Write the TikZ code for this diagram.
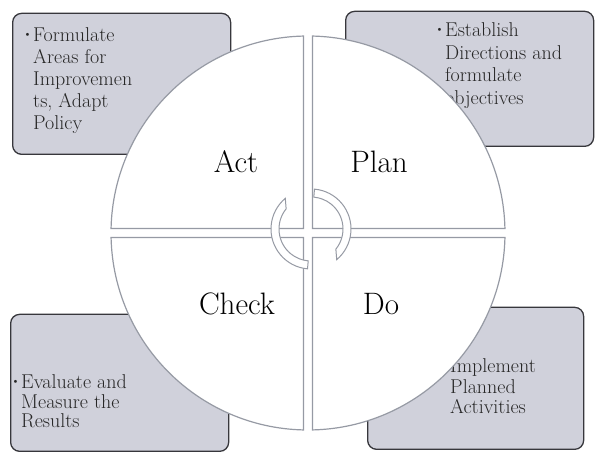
\documentclass[tikz,border=0pt]{standalone}
\usepackage{tikz}
\definecolor{boxfill}{RGB}{208,209,219}
\definecolor{boxline}{RGB}{55,55,60}
\definecolor{ringline}{RGB}{150,154,164}
\tikzset{
	box/.style={draw=boxline, fill=boxfill, line width=1.3pt, rounded corners=9pt},
	quarterpiece/.style={draw=ringline, fill=white, line width=1.2pt},
	turn/.style={draw=ringline, fill=white, line width=1pt},
	note/.style={anchor=base west, align=left, inner sep=0pt, text=black!85, font=\fontsize{20}{22}\selectfont},
	phase/.style={anchor=base, inner sep=0pt, font=\fontsize{31}{31}\selectfont}
}
\newcommand{\panel}[6][]{
	\path (#2,#3) node[box, anchor=south west, minimum width=#4, minimum height=#5, #1](#6){};
}
\newcommand{\quarterdisk}[1]{
	\draw[quarterpiece, rotate around={#1:(mid)}] (312.5,225.5) -- (312.5,417.95)
		arc[start angle=88.69, end angle=1.31, radius=197] -- cycle;
}
\newcommand{\turnarrow}[1]{
	\draw[turn, rotate around={#1:(hub)}] ([shift={(hub)}]265:40)
		arc[start angle=265, end angle=130, radius=40]
		-- ([shift={(hub)}]141:32) arc[start angle=141, end angle=265, radius=32] -- cycle;
}
\newcommand{\dotitem}{\llap{\raisebox{.2em}{\fontsize{11}{11}\selectfont\textbullet}\hspace{1.5pt}}}

\begin{document}
\begin{tikzpicture}[x=1pt, y=1pt]
	\useasboundingbox (0,0) rectangle (595,454);
	\coordinate (mid) at (308,221);
	\coordinate (hub) at (311,225);

	% the four notes behind the wheel
	\panel{12}{299}{218}{141}{actbox};
	\panel{345}{307}{248}{135}{planbox};
	\panel{10}{2}{218}{137}{checkbox};
	\panel{367}{4}{216}{142}{dobox};

	% base = last line
	\node[note] (acttext) at (33,324) {\dotitem Formulate\\Areas for\\Improvemen\\ts, Adapt\\Policy};
	\node[note, font=\fontsize{20}{22.5}\selectfont] (plantext) at (445,349.5) {\dotitem Establish\\Directions and\\formulate\\objectives};
	\node[note, font=\fontsize{20}{19.5}\selectfont] (checktext) at (21,26) {\dotitem Evaluate and\\Measure the\\Results};
	\node[note, font=\fontsize{20}{20.5}\selectfont] (dotext) at (450,40) {\dotitem Implement\\Planned\\Activities};

	% wheel
	\quarterdisk{0};
	\quarterdisk{90};
	\quarterdisk{180};
	\quarterdisk{270};

	\node[phase] (act) at (236,281) {Act};
	\node[phase] (plan) at (379,281) {Plan};
	\node[phase] (check) at (237,139) {Check};
	\node[phase] (do) at (381,139) {Do};

	\turnarrow{0};
	\turnarrow{180};
\end{tikzpicture}
\end{document}
